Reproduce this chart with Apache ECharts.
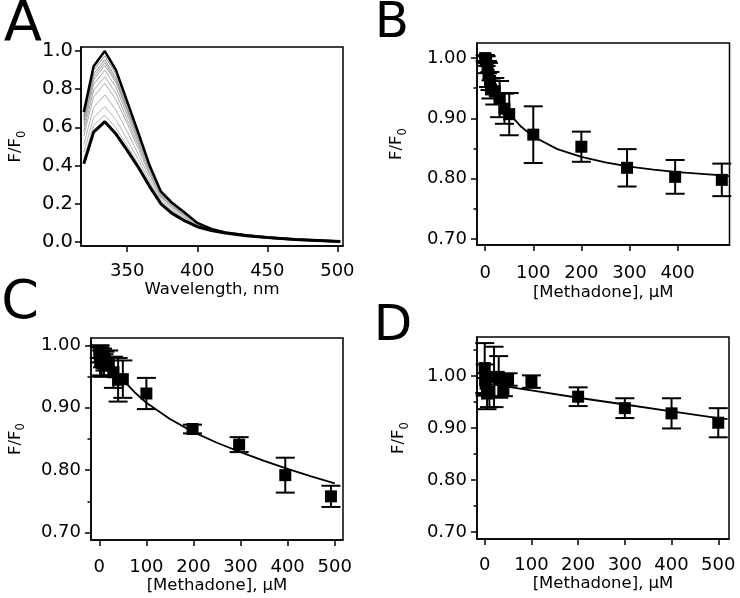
<!DOCTYPE html>
<html><head><meta charset="utf-8">
<script src="https://cdn.jsdelivr.net/npm/echarts@6/dist/echarts.min.js"></script>
<style>html,body{margin:0;padding:0;background:#fff}#c{width:740px;height:598px}</style>
</head><body><div id="c"></div>
<script>
// ---------- Panel A: emission spectra ----------
const wavelength = [319,326,334,342,350,358,366,374,382,390,400,410,420,435,450,470,502];
const specTop    = [0.68,0.92,1.00,0.90,0.735,0.57,0.40,0.265,0.205,0.16,0.10,0.068,0.05,0.035,0.024,0.013,0.003];
const specGray1  = [0.66,0.90,0.975,0.88,0.72,0.56,0.39,0.26,0.20,0.157,0.099,0.067,0.05,0.035,0.024,0.013,0.003];
const specGray2  = [0.65,0.88,0.955,0.86,0.70,0.55,0.385,0.257,0.198,0.155,0.098,0.067,0.05,0.035,0.024,0.013,0.003];
const specGray3  = [0.64,0.865,0.94,0.845,0.695,0.54,0.38,0.255,0.196,0.153,0.097,0.066,0.049,0.034,0.024,0.013,0.003];
const specGray4  = [0.625,0.85,0.925,0.835,0.685,0.535,0.378,0.252,0.194,0.151,0.096,0.066,0.049,0.034,0.024,0.013,0.003];
const specGray5  = [0.605,0.825,0.90,0.81,0.665,0.52,0.37,0.247,0.19,0.148,0.095,0.066,0.049,0.034,0.024,0.013,0.003];
const specGray6  = [0.58,0.795,0.865,0.78,0.64,0.505,0.36,0.241,0.185,0.144,0.093,0.065,0.049,0.034,0.024,0.013,0.003];
const specGray7  = [0.555,0.76,0.83,0.745,0.62,0.487,0.35,0.235,0.18,0.139,0.091,0.064,0.048,0.034,0.024,0.013,0.003];
const specGray8  = [0.51,0.705,0.77,0.69,0.577,0.458,0.332,0.225,0.171,0.132,0.088,0.063,0.048,0.034,0.024,0.013,0.003];
const specGray9  = [0.47,0.65,0.71,0.64,0.536,0.43,0.314,0.214,0.162,0.125,0.084,0.062,0.047,0.033,0.023,0.013,0.003];
const specGray10 = [0.435,0.61,0.665,0.597,0.504,0.407,0.30,0.206,0.155,0.119,0.082,0.061,0.047,0.033,0.023,0.013,0.003];
const specBottom = [0.41,0.575,0.63,0.565,0.48,0.39,0.29,0.20,0.15,0.115,0.08,0.06,0.047,0.033,0.023,0.013,0.003];
const grayColors = ['#8c8c8c','#909090','#999999','#9e9e9e','#a4a4a4','#a8a8a8','#adadad','#b0b0b0','#b4b4b4','#b8b8b8'];

// ---------- Panel B ----------
const bConc = [0,1,2,5,7,10,12,20,30,40,50,100,200,295,395,492];
const bVal  = [1.000,0.998,0.995,0.985,0.972,0.962,0.948,0.945,0.932,0.916,0.907,0.873,0.853,0.818,0.803,0.798];
const bErr  = [0.005,0.006,0.008,0.010,0.020,0.015,0.015,0.022,0.030,0.025,0.035,0.047,0.025,0.031,0.028,0.027];
const bFitX = [0,10,25,50,75,100,150,200,250,300,350,400,450,500,508];
const bFitY = [1.000,0.973,0.942,0.908,0.886,0.870,0.849,0.836,0.827,0.820,0.815,0.811,0.808,0.805,0.804];

// ---------- Panel C ----------
const cConc = [0,1,2,5,7,10,12,20,30,40,50,100,198,297,395,492];
const cVal  = [0.990,0.985,0.975,0.972,0.980,0.968,0.975,0.972,0.957,0.945,0.946,0.923,0.866,0.841,0.792,0.758];
const cErr  = [0.010,0.012,0.025,0.020,0.015,0.018,0.015,0.020,0.025,0.035,0.030,0.025,0.007,0.012,0.028,0.017];
const cFitX = [0,25,50,75,100,150,200,250,300,350,400,450,500];
const cFitY = [1.000,0.970,0.945,0.925,0.908,0.882,0.861,0.844,0.829,0.815,0.802,0.790,0.779];

// ---------- Panel D ----------
const dConc = [0,1,2,5,10,20,30,40,50,100,200,300,400,500];
const dVal  = [1.015,0.992,0.985,0.966,0.970,0.998,0.998,0.973,0.993,0.989,0.960,0.938,0.928,0.910];
const dErr  = [0.048,0.030,0.020,0.030,0.030,0.058,0.040,0.012,0.012,0.012,0.018,0.019,0.029,0.028];
const dFitX = [0,50,100,200,300,400,500,520];
const dFitY = [0.986,0.979,0.972,0.958,0.945,0.932,0.919,0.917];

// ---------- tick labels ----------
const aXTicks = [350,400,450,500];
const aYTicks = [0.0,0.2,0.4,0.6,0.8,1.0];
const concTicksB = [0,100,200,300,400];
const concTicks = [0,100,200,300,400,500];
const ratioTicks = [0.70,0.80,0.90,1.00];
const ratioMinor = [0.75,0.85,0.95];
const ratioMinorD = [0.75,0.85,0.95,1.05];

const FONT = 'DejaVu Sans';
const BLK = '#000';

function xAx(gi, min, max, ticks, name, gap, margin) {
  return {type:'value', gridIndex:gi, min:min, max:max, name:name, nameLocation:'middle', nameGap:gap,
    nameTextStyle:{fontFamily:FONT, fontSize:16.5, color:BLK},
    axisLine:{show:true, onZero:false, lineStyle:{color:BLK, width:1.5}},
    axisTick:{show:true, inside:false, length:6, customValues:ticks, lineStyle:{color:BLK, width:1.5}},
    axisLabel:{show:true, customValues:ticks, margin:margin, fontFamily:FONT, fontSize:18, color:BLK,
      formatter:v=>String(Math.round(v))},
    splitLine:{show:false}};
}
function yAx(gi, min, max, ticks, dec, gap, fs, margin) {
  return {type:'value', gridIndex:gi, min:min, max:max, position:'left', name:'{a|F/F}{b|0}', nameLocation:'middle', nameGap:gap, nameRotate:90,
    nameTextStyle:{fontFamily:FONT, fontSize:16.5, color:BLK,
      rich:{a:{fontFamily:FONT, fontSize:16.5, color:BLK, lineHeight:24, verticalAlign:'middle'},
            b:{fontFamily:FONT, fontSize:11.5, color:BLK, lineHeight:12, verticalAlign:'bottom'}}},
    axisLine:{show:true, onZero:false, lineStyle:{color:BLK, width:1.5}},
    axisTick:{show:true, inside:false, length:6, customValues:ticks, lineStyle:{color:BLK, width:1.5}},
    axisLabel:{show:true, customValues:ticks, margin:margin, fontFamily:FONT, fontSize:fs, color:BLK,
      formatter:v=>Number(v).toFixed(dec)},
    splitLine:{show:false}};
}
function yMinor(gi, min, max, ticks) {
  return {type:'value', gridIndex:gi, min:min, max:max, position:'left', offset:0,
    axisLine:{show:false, onZero:false},
    axisTick:{show:true, inside:false, length:3.5, customValues:ticks, lineStyle:{color:BLK, width:1.5}},
    axisLabel:{show:false}, splitLine:{show:false}};
}
function errItem(params, api) {
  const x = api.value(0), y = api.value(1), e = api.value(2);
  const p1 = api.coord([x, y + e]), p2 = api.coord([x, y - e]);
  const hw = 9.5;
  const st = {stroke:BLK, lineWidth:2};
  return {type:'group', children:[
    {type:'line', shape:{x1:p1[0], y1:p1[1], x2:p2[0], y2:p2[1]}, style:st},
    {type:'line', shape:{x1:p1[0]-hw, y1:p1[1], x2:p1[0]+hw, y2:p1[1]}, style:st},
    {type:'line', shape:{x1:p2[0]-hw, y1:p2[1], x2:p2[0]+hw, y2:p2[1]}, style:st}
  ]};
}
function panelSeries(idx, conc, val, err, fx, fy) {
  return [
    {type:'custom', xAxisIndex:idx, yAxisIndex:idx, renderItem:errItem, clip:false, z:2,
      encode:{x:0, y:1}, data:conc.map((c,i)=>[c, val[i], err[i]])},
    {type:'scatter', xAxisIndex:idx, yAxisIndex:idx, symbol:'rect', symbolSize:12, z:3,
      itemStyle:{color:BLK, opacity:1}, data:conc.map((c,i)=>[c, val[i]])},
    {type:'line', xAxisIndex:idx, yAxisIndex:idx, showSymbol:false, symbol:'none', z:4,
      lineStyle:{color:BLK, width:1.8}, data:fx.map((x,i)=>[x, fy[i]])}
  ];
}

const grays = [specGray1,specGray2,specGray3,specGray4,specGray5,specGray6,specGray7,specGray8,specGray9,specGray10];
const specSeries = [];
grays.forEach((g, k) => specSeries.push({type:'line', xAxisIndex:0, yAxisIndex:0, symbol:'none', z:2,
  lineStyle:{color:grayColors[k], width:1}, data:wavelength.map((w,i)=>[w, g[i]])}));
specSeries.push({type:'line', xAxisIndex:0, yAxisIndex:0, symbol:'none', z:3,
  lineStyle:{color:BLK, width:2.5}, data:wavelength.map((w,i)=>[w, specTop[i]])});
specSeries.push({type:'line', xAxisIndex:0, yAxisIndex:0, symbol:'none', z:3,
  lineStyle:{color:BLK, width:3}, data:wavelength.map((w,i)=>[w, specBottom[i]])});

const gridStyle = {show:true, borderColor:BLK, borderWidth:1.5, backgroundColor:'transparent'};
const letter = (t, x, y, fs) => ({type:'text', x:x, y:y, z:10,
  style:{text:t, fill:BLK, font:fs + 'px "DejaVu Sans"', textAlign:'center', textVerticalAlign:'middle', verticalAlign:'middle'}});

const option = {
  animation:false,
  backgroundColor:'#fff',
  grid:[
    Object.assign({left:81, top:47, width:262, height:199}, gridStyle),
    Object.assign({left:477, top:43, width:252.5, height:202}, gridStyle),
    Object.assign({left:91, top:338, width:252, height:202}, gridStyle),
    Object.assign({left:477, top:337, width:252, height:202}, gridStyle)
  ],
  xAxis:[
    xAx(0, 317, 504, aXTicks, 'Wavelength, nm', 35, 16),
    xAx(1, -17, 508, concTicksB, '[Methadone], \u03bcM', 39, 19),
    xAx(2, -17.6, 517.6, concTicks, '[Methadone], \u03bcM', 32, 18),
    xAx(3, -16.5, 523, concTicks, '[Methadone], \u03bcM', 33, 17)
  ],
  yAxis:[
    yAx(0, -0.021, 1.021, aYTicks, 1, 53, 19.5, 8),
    yAx(1, 0.69, 1.025, ratioTicks, 2, 68, 18, 10),
    yAx(2, 0.688, 1.012, ratioTicks, 2, 63.5, 18, 10),
    yAx(3, 0.6866, 1.0747, ratioTicks, 2, 66, 18, 10),
    yMinor(1, 0.69, 1.025, ratioMinor),
    yMinor(2, 0.688, 1.012, ratioMinor),
    yMinor(3, 0.6866, 1.0747, ratioMinorD)
  ],
  graphic:[letter('A', 23, 25, 56), letter('B', 392, 24, 50), letter('C', 20, 304, 54), letter('D', 393, 327, 50)],
  series: specSeries
    .concat(panelSeries(1, bConc, bVal, bErr, bFitX, bFitY))
    .concat(panelSeries(2, cConc, cVal, cErr, cFitX, cFitY))
    .concat(panelSeries(3, dConc, dVal, dErr, dFitX, dFitY))
};
const chart = echarts.init(document.getElementById('c'), null, {renderer:'canvas'});
chart.setOption(option);
</script></body></html>
